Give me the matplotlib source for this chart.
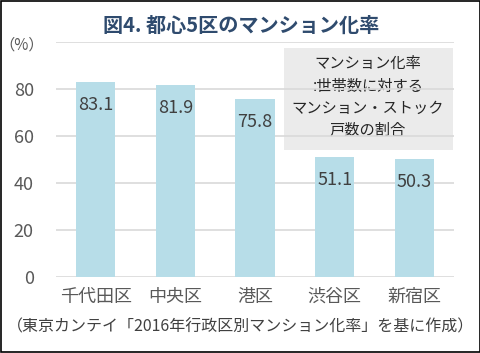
import matplotlib.pyplot as plt
from matplotlib.patches import Rectangle

plt.rcParams['font.family'] = ['Noto Sans CJK JP', 'DejaVu Sans']

wards = ['千代田区', '中央区', '港区', '渋谷区', '新宿区']
rates = [83.1, 81.9, 75.8, 51.1, 50.3]
yticks = [0, 20, 40, 60, 80, 100]
ytick_labels = ['0', '20', '40', '60', '80', '']

title = '図4. 都心5区のマンション化率'
note = 'マンション化率\n:世帯数に対する\nマンション・ストック\n戸数の割合'
source = '（東京カンテイ「2016年行政区別マンション化率」を基に作成）'

gray = '#595959'


def main():
    fig = plt.figure(figsize=(4.81, 3.53), dpi=100)
    ax = fig.add_axes([56 / 481, 1 - 277 / 353, 398 / 481, 235 / 353])

    x = range(len(wards))
    bars = ax.bar(x, rates, width=0.49, color='#B7DDE8', zorder=2)
    for b, v in zip(bars, rates):
        ax.text(b.get_x() + b.get_width() / 2, v - 10, f'{v:.1f}', ha='center', va='center',
                fontsize=13, color='#404040', zorder=3)

    ax.set_xlim(-0.5, len(wards) - 0.5)
    ax.set_ylim(0, 100)
    ax.set_yticks(yticks)
    ax.set_yticklabels(ytick_labels, fontsize=13, color=gray)
    ax.set_xticks(list(x))
    ax.set_xticklabels(wards, fontsize=13, color=gray)
    ax.tick_params(axis='y', length=0, pad=16)
    ax.tick_params(axis='x', length=0, pad=8)
    ax.grid(axis='y', color='#D9D9D9', linewidth=1.2, zorder=0)
    for s in ax.spines.values():
        s.set_visible(False)
    ax.set_facecolor('none')

    fig.text(241 / 481, 1 - 25 / 353, title, ha='center', va='center', fontsize=14.5,
             fontweight='bold', color='#2F4B6E')
    fig.text(22 / 481, 1 - 45 / 353, '（%）', ha='center', va='center', fontsize=11, color=gray)

    fig.patches.append(Rectangle((284 / 481, 1 - 150 / 353), 169 / 481, 102 / 353,
                                 transform=fig.transFigure, facecolor='#EBEBEB',
                                 edgecolor='none', zorder=-2))
    fig.text(368 / 481, 1 - 97 / 353, note, ha='center', va='center', fontsize=11,
             color='#262626', linespacing=1.4, zorder=-1)

    fig.text(241 / 481, 1 - 327 / 353, source, ha='center', va='center', fontsize=11.5,
             color='#404040')

    fig.patches.append(Rectangle((0.002, 0.003), 0.995, 0.994, transform=fig.transFigure,
                                 facecolor='none', edgecolor='black', linewidth=1.2))
    fig.savefig('out.png', dpi=100)


if __name__ == '__main__':
    main()
